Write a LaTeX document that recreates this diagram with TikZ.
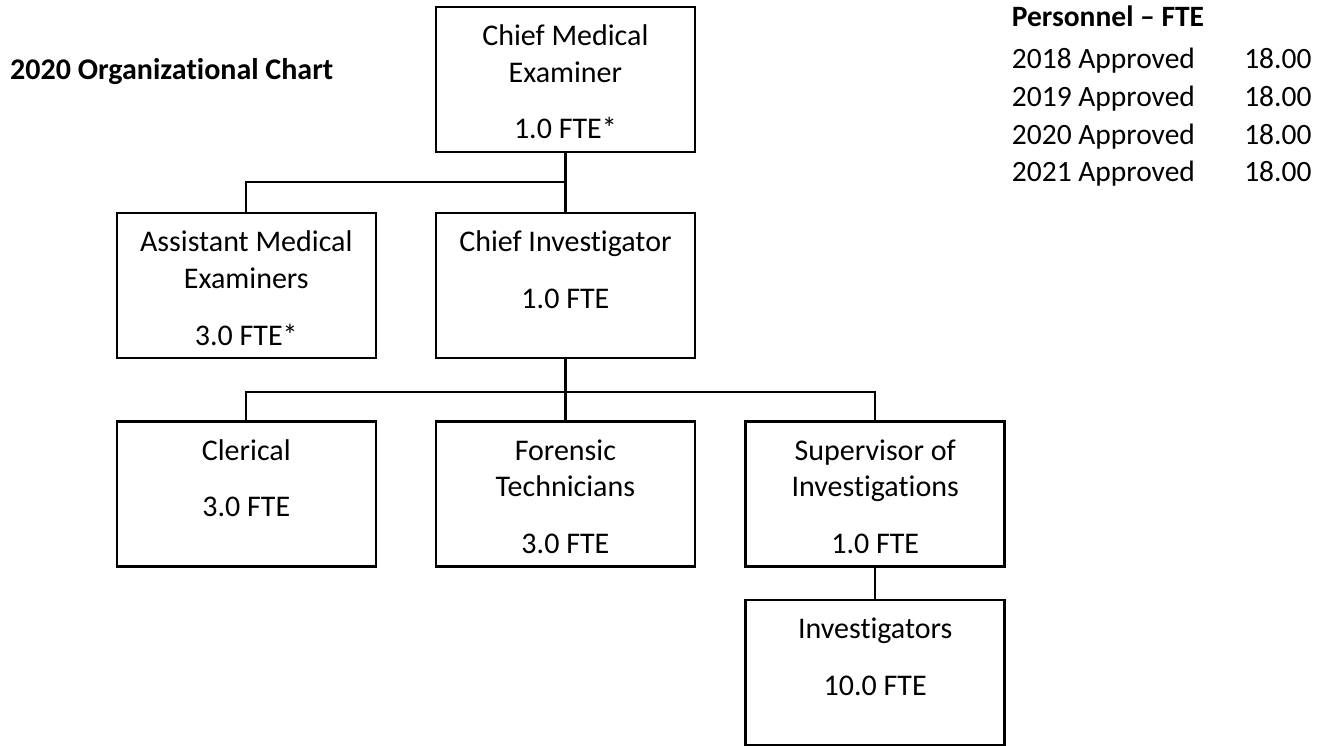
\documentclass[tikz,border=0pt]{standalone}
\usepackage{fontspec}
\setmainfont{Carlito}[Ligatures=NoCommon]
\begin{document}
\begin{tikzpicture}[x=1pt, y=-1pt,
  orgbox/.style={draw=black, line width=2.5pt, rectangle, minimum width=259pt,
                 minimum height=145pt, inner sep=0pt, fill=white},
  boxtext/.style={anchor=north, align=center, inner sep=0pt,
                  font=\fontsize{30}{36.6}\selectfont},
  link/.style={draw=black, line width=2.2pt},
  heading/.style={inner sep=0pt, font=\fontsize{30}{36}\selectfont\bfseries},
  tabletext/.style={inner sep=0pt, font=\fontsize{29.5}{36}\selectfont}]
\useasboundingbox (0,0) rectangle (1328,745);

% boxes of the chart
\node[orgbox] (cme) at (565.4,79.5)  {};
\node[orgbox] (ame) at (246.3,285.7) {};
\node[orgbox] (ci)  at (565.4,285.7) {};
\node[orgbox] (cl)  at (246.3,494)   {};
\node[orgbox] (ft)  at (565.4,494)   {};
\node[orgbox] (si)  at (875.2,494)   {};
\node[orgbox] (inv) at (875.2,672.6) {};

% junction points of the connectors
\coordinate (j1) at (565.4,182);
\coordinate (j2) at (565.4,391.7);

% connectors
\draw[link] (cme.south) -- (j1) -- (ci.north);
\draw[link] (j1) -| (ame.north);
\draw[link] (ci.south) -- (j2) -- (ft.north);
\draw[link] (j2) -| (cl.north);
\draw[link] (j2) -| (si.north);
\draw[link] (si.south) -- (inv.north);

% texts inside the boxes
\node[boxtext] (cme-t) at ([yshift=-14.1pt]cme.north) {\strut Chief Medical\\Examiner\\[20.1pt]1.0 FTE*};
\node[boxtext] (ame-t) at ([yshift=-14.1pt]ame.north) {\strut Assistant Medical\\Examiners\\[20.1pt]3.0 FTE*};
\node[boxtext] (ci-t)  at ([yshift=-14.1pt]ci.north)  {\strut Chief Investigator\\[20.1pt]1.0 FTE};
\node[boxtext] (cl-t)  at ([yshift=-14.1pt]cl.north)  {\strut Clerical\\[20.1pt]3.0 FTE};
\node[boxtext] (ft-t)  at ([yshift=-14.1pt]ft.north)  {\strut Forensic\\Technicians\\[20.1pt]3.0 FTE};
\node[boxtext] (si-t)  at ([yshift=-14.1pt]si.north)  {\strut Supervisor of\\Investigations\\[20.1pt]1.0 FTE};
\node[boxtext] (inv-t) at ([yshift=-14.1pt]inv.north) {\strut Investigators\\[20.1pt]10.0 FTE};

% title
\node[heading, anchor=base west] (title) at (10,79) {2020 Organizational Chart};

% personnel table
\node[heading, font=\fontsize{29.5}{36}\selectfont\bfseries, anchor=base west] (ph) at (1011.7,26) {Personnel – FTE};
\node[tabletext, anchor=base west] (y18) at (1011.7,68.3)  {2018 Approved};
\node[tabletext, anchor=base east] (v18) at (1311.7,68.3)  {18.00};
\node[tabletext, anchor=base west] (y19) at (1011.7,106)   {2019 Approved};
\node[tabletext, anchor=base east] (v19) at (1311.7,106)   {18.00};
\node[tabletext, anchor=base west] (y20) at (1011.7,144)   {2020 Approved};
\node[tabletext, anchor=base east] (v20) at (1311.7,144)   {18.00};
\node[tabletext, anchor=base west] (y21) at (1011.7,181.7) {2021 Approved};
\node[tabletext, anchor=base east] (v21) at (1311.7,181.7) {18.00};
\end{tikzpicture}
\end{document}
